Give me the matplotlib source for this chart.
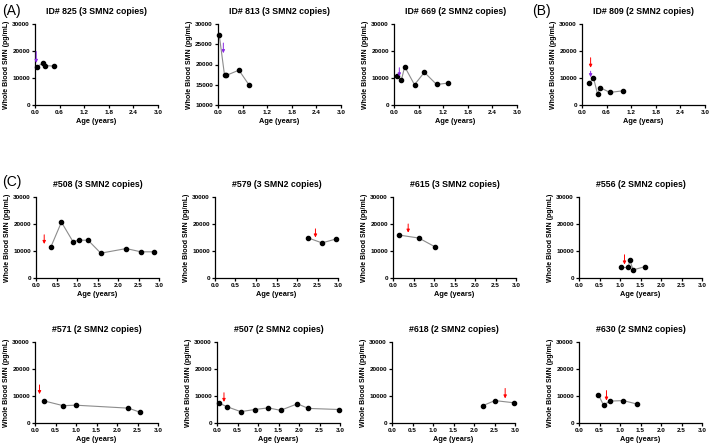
import matplotlib.pyplot as plt

plt.rcParams['font.family'] = ['Liberation Sans', 'DejaVu Sans']

# panel titles
titles = [
    "ID# 825 (3 SMN2 copies)", "ID# 813 (3 SMN2 copies)",
    "ID# 669 (2 SMN2 copies)", "ID# 809 (2 SMN2 copies)",
    "#508 (3 SMN2 copies)", "#579 (3 SMN2 copies)",
    "#615 (3 SMN2 copies)", "#556 (2 SMN2 copies)",
    "#571 (2 SMN2 copies)", "#507 (2 SMN2 copies)",
    "#618 (2 SMN2 copies)", "#630 (2 SMN2 copies)",
]

# age (years) and whole blood SMN (pg/mL) per subject
ages = [
    [0.04, 0.19, 0.24, 0.47],
    [0.03, 0.16, 0.20, 0.51, 0.76],
    [0.08, 0.18, 0.26, 0.50, 0.74, 1.04, 1.31],
    [0.18, 0.28, 0.38, 0.44, 0.68, 0.99],
    [0.36, 0.62, 0.90, 1.06, 1.27, 1.58, 2.20, 2.56, 2.88],
    [2.28, 2.61, 2.94],
    [0.15, 0.63, 1.03],
    [1.02, 1.20, 1.24, 1.32, 1.61],
    [0.23, 0.69, 0.99, 2.28, 2.56],
    [0.06, 0.25, 0.58, 0.92, 1.25, 1.55, 1.96, 2.23, 2.98],
    [2.21, 2.51, 2.97],
    [0.47, 0.60, 0.75, 1.08, 1.42],
]
smn = [
    [14000, 15600, 14600, 14400],
    [27300, 17300, 17300, 18600, 14900],
    [10600, 9200, 14200, 7500, 12100, 7600, 8100],
    [8100, 10100, 4000, 6450, 4650, 5250],
    [11400, 20700, 13500, 14000, 14000, 9200, 10900, 9700, 9700],
    [14800, 13000, 14400],
    [15900, 14800, 11500],
    [3900, 3900, 6600, 3000, 4200],
    [8150, 6400, 6600, 5500, 4000],
    [7300, 6000, 4200, 5000, 5600, 4700, 7100, 5400, 5000],
    [6400, 8300, 7500],
    [10500, 6600, 8100, 8300, 7000],
]

# treatment arrows: x position, tail and head in pg/mL
red_x = [None, None, None, 0.21, 0.20, 2.45, 0.37, 1.11, 0.11, 0.17, 2.76, 0.67]
red_top = [None, None, None, 17500, 16000, 18200, 20000, 8600, 14100, 11200, 12800, 12000]
red_tip = [None, None, None, 13800, 12600, 15000, 16800, 5000, 10700, 7800, 9100, 8300]
purple_x = [0.03, 0.13, 0.13, 0.21]
purple_top = [19800, 25300, 13800, 12500]
purple_tip = [15600, 22800, 10600, 10300]

top_ticks = [0.0, 0.6, 1.2, 1.8, 2.4, 3.0]
low_ticks = [0.0, 0.5, 1.0, 1.5, 2.0, 2.5, 3.0]

W, H = 709, 445
fig = plt.figure(figsize=(W / 100, H / 100), dpi=100)

row_lefts = [[35, 218, 394, 582], [36, 215, 393, 579], [35, 217, 392, 579]]
row_tops = [24, 197, 342]
ax_w, ax_h = 123, 81


def draw_arrow(ax, x, y0, y1, color):
    ax.annotate('', xy=(x, y1), xytext=(x, y0),
                arrowprops=dict(arrowstyle='-|>', color=color, lw=0.7,
                                mutation_scale=4.5, shrinkA=0, shrinkB=0))


for i in range(12):
    r, c = divmod(i, 4)
    left = row_lefts[r][c]
    top = row_tops[r]
    ax = fig.add_axes([left / W, 1 - (top + ax_h) / H, ax_w / W, ax_h / H])
    ax.plot(ages[i], smn[i], color='#8c8c8c', lw=0.8, zorder=2, clip_on=False)
    ax.plot(ages[i], smn[i], 'o', color='black', ms=3, zorder=3, clip_on=False)

    if i < 4:
        draw_arrow(ax, purple_x[i], purple_top[i], purple_tip[i], '#8a2be2')
    if red_x[i] is not None:
        draw_arrow(ax, red_x[i], red_top[i], red_tip[i], 'red')

    ax.set_xlim(0, 3)
    if i == 1:
        ax.set_ylim(10000, 30000)
        ax.set_yticks([10000, 15000, 20000, 25000, 30000])
    else:
        ax.set_ylim(0, 30000)
        ax.set_yticks([0, 10000, 20000, 30000])
    ticks = top_ticks if r == 0 else low_ticks
    ax.set_xticks(ticks)
    ax.set_xticklabels([f"{t:.1f}" for t in ticks])

    for s in ['top', 'right']:
        ax.spines[s].set_visible(False)
    for s in ['left', 'bottom']:
        ax.spines[s].set_linewidth(0.9)
    ax.tick_params(direction='out', length=2.5, width=0.9, labelsize=4.6, pad=1.2)
    for lab in ax.get_xticklabels() + ax.get_yticklabels():
        lab.set_fontweight('bold')
    ax.set_ylabel('Whole Blood SMN (pg/mL)', fontsize=5.0, fontweight='bold', labelpad=1.5)
    ax.set_xlabel('Age (years)', fontsize=5.3, fontweight='bold', labelpad=2)
    ax.set_title(titles[i], fontsize=6.3, fontweight='bold', pad=7)

fig.text(2 / W, 1 - 11 / H, '(A)', fontsize=10, va='center', ha='left')
fig.text(532 / W, 1 - 11 / H, '(B)', fontsize=10, va='center', ha='left')
fig.text(2 / W, 1 - 182 / H, '(C)', fontsize=10, va='center', ha='left')

fig.savefig('out.png', dpi=100)
